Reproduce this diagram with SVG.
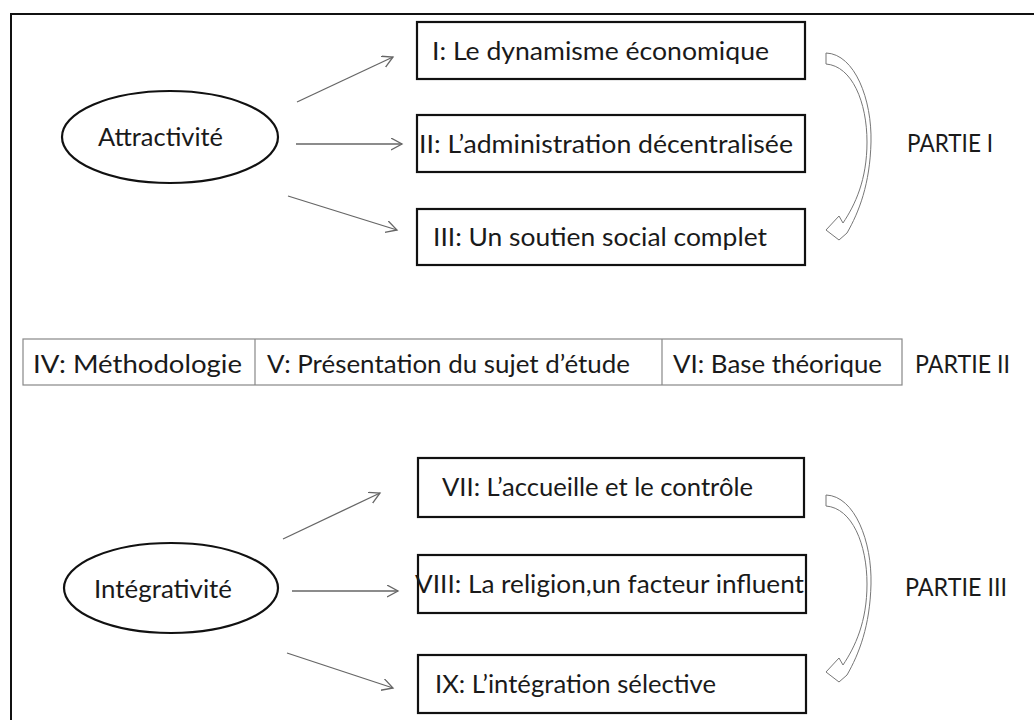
<svg xmlns="http://www.w3.org/2000/svg" width="1034" height="720" viewBox="0 0 1034 720">
<style>
.bg{fill:#fff}
.frame{stroke:#111;stroke-width:2;fill:none}
.box{fill:#fff;stroke:#111;stroke-width:2.2}
.ell{fill:#fff;stroke:#111;stroke-width:2.2}
.row{fill:#fff;stroke:#888;stroke-width:1.2}
.sep{stroke:#888;stroke-width:1.2}
.t{font-family:Lato,"Open Sans",sans-serif;font-size:25px;fill:#1a1a1a}
.con{stroke:#666;stroke-width:1.3;fill:none;marker-end:url(#ah)}
.curve{fill:#fff;stroke:#777;stroke-width:1}
</style>
<defs>
<marker id="ah" markerUnits="userSpaceOnUse" markerWidth="14" markerHeight="14" refX="11" refY="6" orient="auto">
<path d="M0,0 L11,6 L0,12" fill="none" stroke="#666" stroke-width="1.3"/>
</marker>
<path id="curvedArrow" d="M826 53 C855 54 872 100 871 142 C870 184 859 212 847 233 L839 240 L826 230 L839 216 L843 223 C855 205 867 180 867 142 C867 102 852 66 826 64 Z"/>
</defs>
<rect class="bg" x="0" y="0" width="1034" height="720"/>
<g id="frame">
<path class="frame" d="M11 720 L11 14 L1034 14"/>
</g>
<g id="connectors">
<line class="con" x1="297" y1="102" x2="393" y2="57"/>
<line class="con" x1="296" y1="144" x2="402" y2="144"/>
<line class="con" x1="288" y1="196" x2="397" y2="230"/>
<line class="con" x1="283" y1="539" x2="380" y2="493"/>
<line class="con" x1="292" y1="591" x2="398" y2="591"/>
<line class="con" x1="287" y1="653" x2="393" y2="688"/>
<use href="#curvedArrow" class="curve"/>
<use href="#curvedArrow" class="curve" transform="translate(0,442)"/>
</g>
<g id="attractivite">
<ellipse class="ell" cx="170" cy="137" rx="108" ry="46"/>
<text class="t" x="98" y="146" textLength="125" lengthAdjust="spacingAndGlyphs">Attractivité</text>
</g>
<g id="box-I">
<rect class="box" x="417" y="22" width="388" height="57"/>
<text class="t" x="432" y="60" textLength="337" lengthAdjust="spacingAndGlyphs">I: Le dynamisme économique</text>
</g>
<g id="box-II">
<rect class="box" x="417" y="115" width="388" height="57"/>
<text class="t" x="419" y="153" textLength="374" lengthAdjust="spacingAndGlyphs">II: L’administration décentralisée</text>
</g>
<g id="box-III">
<rect class="box" x="417" y="209" width="388" height="56"/>
<text class="t" x="433" y="246" textLength="334" lengthAdjust="spacingAndGlyphs">III: Un soutien social complet</text>
</g>
<g id="partie-I">
<text class="t" x="907" y="152" textLength="86" lengthAdjust="spacingAndGlyphs">PARTIE I</text>
</g>
<g id="row-partie-II">
<rect class="row" x="23" y="339" width="879" height="46"/>
<line class="sep" x1="255" y1="339" x2="255" y2="385"/>
<line class="sep" x1="662" y1="339" x2="662" y2="385"/>
<text class="t" x="33" y="373" textLength="209" lengthAdjust="spacingAndGlyphs">IV: Méthodologie</text>
<text class="t" x="267" y="373" textLength="363" lengthAdjust="spacingAndGlyphs">V: Présentation du sujet d’étude</text>
<text class="t" x="673" y="373" textLength="209" lengthAdjust="spacingAndGlyphs">VI: Base théorique</text>
<text class="t" x="915" y="373" textLength="95" lengthAdjust="spacingAndGlyphs">PARTIE II</text>
</g>
<g id="integrativite">
<ellipse class="ell" cx="171" cy="588" rx="107" ry="45"/>
<text class="t" x="94" y="598" textLength="138" lengthAdjust="spacingAndGlyphs">Intégrativité</text>
</g>
<g id="box-VII">
<rect class="box" x="418" y="458" width="386" height="59"/>
<text class="t" x="442" y="496" textLength="311" lengthAdjust="spacingAndGlyphs">VII: L’accueille et le contrôle</text>
</g>
<g id="box-VIII">
<rect class="box" x="418" y="555" width="388" height="58"/>
<text class="t" x="415" y="593" textLength="389" lengthAdjust="spacingAndGlyphs">VIII: La religion,un facteur influent</text>
</g>
<g id="box-IX">
<rect class="box" x="418" y="655" width="388" height="58"/>
<text class="t" x="435" y="693" textLength="281" lengthAdjust="spacingAndGlyphs">IX: L’intégration sélective</text>
</g>
<g id="partie-III">
<text class="t" x="905" y="596" textLength="102" lengthAdjust="spacingAndGlyphs">PARTIE III</text>
</g>
</svg>
